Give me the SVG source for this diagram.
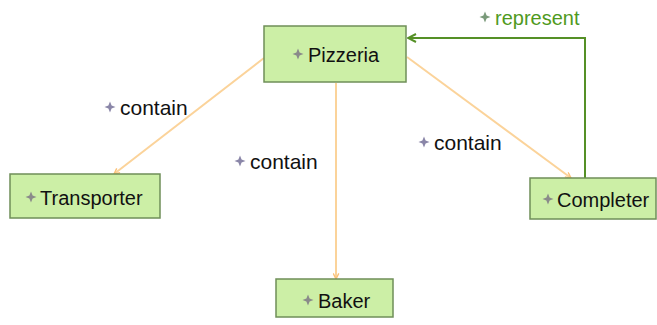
<svg xmlns="http://www.w3.org/2000/svg" width="657" height="325" viewBox="0 0 657 325">
<defs>
<style>
.node{fill:#ccefa6;stroke:#6f8f58;stroke-width:1.5}
.t{font-family:"Liberation Sans",Arial,sans-serif;font-size:20px;fill:#111}
.lbl{font-family:"Liberation Sans",Arial,sans-serif;font-size:21px;fill:#111}
.rep{font-family:"Liberation Sans",Arial,sans-serif;font-size:20px;fill:#4f9a1e}
.cont{fill:none;stroke:#fbd39a;stroke-width:2}
.repl{fill:none;stroke:#559026;stroke-width:2}
</style>
<marker id="ao" viewBox="0 0 10 10" refX="9" refY="5" markerWidth="7" markerHeight="7" orient="auto" markerUnits="userSpaceOnUse">
<path d="M1,1 L9,5 L1,9" fill="none" stroke="#fbc27a" stroke-width="2"/>
</marker>
<marker id="ag" viewBox="0 0 10 10" refX="9" refY="5" markerWidth="10" markerHeight="10" orient="auto" markerUnits="userSpaceOnUse">
<path d="M1,1 L9,5 L1,9" fill="none" stroke="#559026" stroke-width="2"/>
</marker>
<path id="star" d="M0,-5.5 L1.6,-1.6 L5.5,0 L1.6,1.6 L0,5.5 L-1.6,1.6 L-5.5,0 L-1.6,-1.6 Z"/>
</defs>
<g id="connectors">
<path class="cont" d="M264,58 L114,174" marker-end="url(#ao)"/>
<path class="cont" d="M336,83 L336,279" marker-end="url(#ao)"/>
<path class="cont" d="M407,57 L571,178" marker-end="url(#ao)"/>
<path class="repl" d="M585,178 L585,38 L408,38" marker-end="url(#ag)"/>
<g id="lbl1"><use href="#star" x="110" y="107" fill="#8a86a8"/><text class="lbl" x="120" y="115">contain</text></g>
<g id="lbl2"><use href="#star" x="240" y="161" fill="#8a86a8"/><text class="lbl" x="250" y="169">contain</text></g>
<g id="lbl3"><use href="#star" x="424" y="142" fill="#8a86a8"/><text class="lbl" x="434" y="150">contain</text></g>
<g id="lbl4"><use href="#star" x="485" y="17" fill="#7a9a7a"/><text class="rep" x="495" y="25">represent</text></g>
</g>
<g id="pizzeria"><rect class="node" x="264" y="26" width="142" height="56"/><use href="#star" x="298" y="54" fill="#8a8a8a"/><text class="t" x="308" y="62">Pizzeria</text></g>
<g id="transporter"><rect class="node" x="10" y="174" width="150" height="44"/><use href="#star" x="31" y="197" fill="#8a8a8a"/><text class="t" x="40" y="205">Transporter</text></g>
<g id="baker"><rect class="node" x="276" y="279" width="117" height="38"/><use href="#star" x="308" y="300" fill="#8a8a8a"/><text class="t" x="318" y="308">Baker</text></g>
<g id="completer"><rect class="node" x="530" y="178" width="126" height="41"/><use href="#star" x="548" y="199" fill="#8a8a8a"/><text class="t" x="557" y="207">Completer</text></g>
</svg>
